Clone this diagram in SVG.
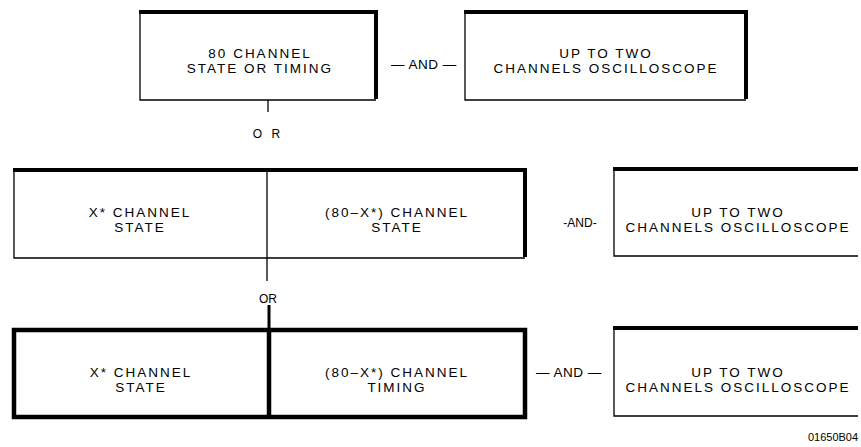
<svg xmlns="http://www.w3.org/2000/svg" width="861" height="447" viewBox="0 0 861 447">
<style>
text{font-family:"Liberation Sans","DejaVu Sans",sans-serif;font-size:13.5px;fill:#000;text-anchor:middle;letter-spacing:2px}
.thin{fill:none;stroke:#000;stroke-width:1.3}
.thick{fill:none;stroke:#000;stroke-width:4}
.bold{fill:none;stroke:#000;stroke-width:4.5}
.conn{fill:none;stroke:#000;stroke-width:1.3}
.small{font-size:12px;letter-spacing:0}
</style>
<rect width="861" height="447" fill="#fff"/>
<g id="box-80ch">
<path class="thin" d="M140 14 V100 H376"/>
<path class="thick" d="M139 12 H376 V99"/>
<text x="260" y="58">80 CHANNEL</text>
<text x="260" y="73">STATE OR TIMING</text>
</g>
<text x="424" y="69" style="letter-spacing:0.5px">— AND —</text>
<g id="box-scope1">
<path class="thin" d="M465 14 V100 H746"/>
<path class="thick" d="M464 12 H746 V99"/>
<text x="606" y="58">UP TO TWO</text>
<text x="606" y="73">CHANNELS OSCILLOSCOPE</text>
</g>
<g id="box-split-state">
<path class="thin" d="M14 172 V258 H525 M267 170 V258"/>
<path class="thick" d="M13 170 H525 V257"/>
<text x="140" y="217">X* CHANNEL</text>
<text x="140" y="232">STATE</text>
<text x="397" y="217">(80–X*) CHANNEL</text>
<text x="397" y="232">STATE</text>
</g>
<text class="small" x="580" y="227">-AND-</text>
<g id="box-scope2">
<path class="thin" d="M614 171 V256 H858"/>
<path class="thick" d="M613 169 H858"/>
<text x="738" y="217">UP TO TWO</text>
<text x="738" y="232">CHANNELS OSCILLOSCOPE</text>
</g>
<g id="box-split-timing">
<rect class="bold" x="14" y="330" width="511" height="87"/>
<path class="bold" d="M269 330 V417"/>
<text x="141" y="377">X* CHANNEL</text>
<text x="141" y="392">STATE</text>
<text x="397" y="377">(80–X*) CHANNEL</text>
<text x="397" y="392">TIMING</text>
</g>
<text x="569" y="377" style="letter-spacing:0.5px">— AND —</text>
<g id="box-scope3">
<path class="thin" d="M614 330 V416 H858"/>
<path class="thick" d="M613 328 H858"/>
<text x="738" y="377">UP TO TWO</text>
<text x="738" y="392">CHANNELS OSCILLOSCOPE</text>
</g>
<g id="connectors">
<path class="conn" d="M268 100 V112"/>
<path class="conn" d="M267 258 V281"/>
<path class="bold" d="M269 305 V330" style="stroke-width:3"/>
</g>
<text class="small" x="268" y="138" style="letter-spacing:3px">O R</text>
<text class="small" x="268" y="303">OR</text>
<text class="small" x="833" y="441" style="font-size:11px">01650B04</text>
</svg>
